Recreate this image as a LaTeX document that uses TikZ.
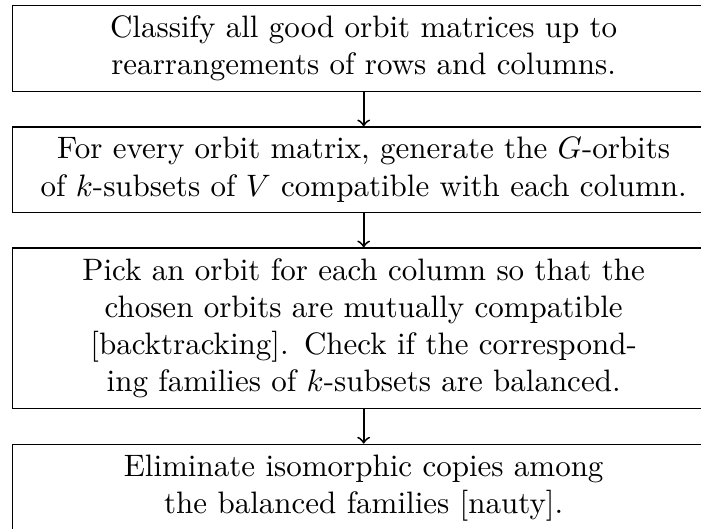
\documentclass[tikz,border=0pt]{standalone}
\usetikzlibrary{positioning}
\begin{document}
\begin{tikzpicture}[
  stepbox/.style={draw, line width=0.4pt, text width=220pt, align=center, inner sep=3.333pt},
  flow/.style={->, line width=0.6pt},
  node distance=11.1pt]
\useasboundingbox (0,0) rectangle (226.1pt,-170.6pt);
\node[stepbox, anchor=north] (a) at (117.3pt,-1.5pt)
  {Classify all good orbit matrices up to\\ rearrangements of rows and columns.};
\node[stepbox, below=of a] (b)
  {For every orbit matrix, generate the $G$-orbits\\ of $k$-subsets of $V$ compatible with each column.};
\node[stepbox, below=of b] (c)
  {Pick an orbit for each column so that the\\ chosen orbits are mutually compatible\\ {[}backtracking{]}. Check if the correspond-\\ ing families of $k$-subsets are balanced.};
\node[stepbox, below=of c] (d)
  {Eliminate isomorphic copies among\\ the balanced families [nauty].};
\draw[flow] (a) -- (b);
\draw[flow] (b) -- (c);
\draw[flow] (c) -- (d);
\end{tikzpicture}
\end{document}
